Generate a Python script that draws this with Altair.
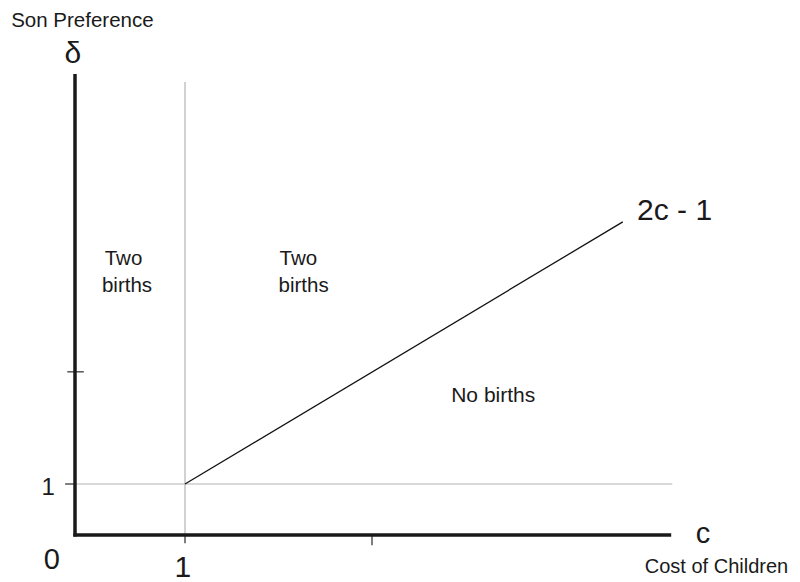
import altair as alt
import pandas as pd

# ---- data (in model units: c = cost of children, delta = son preference) ----
# boundary line delta = 2c - 1 (as drawn)
diag_c = [1.0, 4.98]
diag_d = [1.0, 6.14]

# thin grey reference lines: c = 1 (vertical) and delta = 1 (horizontal)
ref_x1 = [1.0, 0.0]
ref_x2 = [1.0, 5.43]
ref_y1 = [0.0, 1.0]
ref_y2 = [8.88, 1.0]

# axes
axis_x1 = [-0.015, 0.0]
axis_x2 = [5.42, 0.0]
axis_y1 = [0.0, -0.03]
axis_y2 = [0.0, 9.04]

# tick marks
tick_x1 = [1.0, 2.7, -0.09, -0.07]
tick_x2 = [1.0, 2.7, 0.0, 0.08]
tick_y1 = [0.0, 0.0, 1.0, 3.2]
tick_y2 = [-0.16, -0.2, 1.0, 3.2]

# centred labels
c_text = ["δ", "1", "0", "1", "c"]
c_c = [-0.02, -0.245, -0.21, 0.98, 5.71]
c_d = [9.25, 0.78, -0.67, -0.82, -0.16]
c_size = [30, 24, 29, 30, 29]

# left-aligned labels
l_text = ["Son Preference", "Cost of Children", "2c - 1", "Two", "births",
          "Two", "births", "No births"]
l_c = [-0.58, 5.18, 5.11, 0.27, 0.245, 1.86, 1.85, 3.42]
l_d = [9.97, -0.75, 6.18, 5.29, 4.76, 5.29, 4.76, 2.61]
l_size = [20.5, 20, 30, 20.5, 20.5, 20.5, 20.5, 21]

FONT = "Liberation Sans"
XS = alt.Scale(domain=[0, 5.4545], nice=False, zero=False)
YS = alt.Scale(domain=[0, 9.039], nice=False, zero=False)


def rules(x1, x2, y1, y2, color, width):
    df = pd.DataFrame({"x": x1, "x2": x2, "y": y1, "y2": y2})
    return alt.Chart(df).mark_rule(color=color, strokeWidth=width, strokeCap="butt").encode(
        x=alt.X("x:Q", scale=XS, axis=None),
        x2="x2:Q",
        y=alt.Y("y:Q", scale=YS, axis=None),
        y2="y2:Q",
    )


ref = rules(ref_x1, ref_x2, ref_y1, ref_y2, "#b4b4b4", 1.2)
ticks = rules(tick_x1, tick_x2, tick_y1, tick_y2, "#555555", 1.5)
axes = rules(axis_x1, axis_x2, axis_y1, axis_y2, "#1a1a1a", 3.5)

diag = alt.Chart(pd.DataFrame({"c": diag_c, "d": diag_d})).mark_line(
    color="#111111", strokeWidth=1.3
).encode(
    x=alt.X("c:Q", scale=XS, axis=None),
    y=alt.Y("d:Q", scale=YS, axis=None),
)

ctext = alt.Chart(pd.DataFrame({"t": c_text, "c": c_c, "d": c_d, "s": c_size})).mark_text(
    align="center", baseline="alphabetic", font=FONT, color="#1a1a1a"
).encode(
    x=alt.X("c:Q", scale=XS, axis=None),
    y=alt.Y("d:Q", scale=YS, axis=None),
    text="t:N",
    size=alt.Size("s:Q", scale=None, legend=None),
)

ltext = alt.Chart(pd.DataFrame({"t": l_text, "c": l_c, "d": l_d, "s": l_size})).mark_text(
    align="left", baseline="alphabetic", font=FONT, color="#1a1a1a"
).encode(
    x=alt.X("c:Q", scale=XS, axis=None),
    y=alt.Y("d:Q", scale=YS, axis=None),
    text="t:N",
    size=alt.Size("s:Q", scale=None, legend=None),
)

chart = alt.layer(ref, ticks, diag, axes, ctext, ltext).properties(
    width=600,
    height=461,
    autosize=alt.AutoSizeParams(type="none"),
    padding={"left": 67, "top": 66, "right": 117, "bottom": 47},
).configure_view(stroke=None)

chart.save("out.html", embed_options={"renderer": "svg", "actions": False})
